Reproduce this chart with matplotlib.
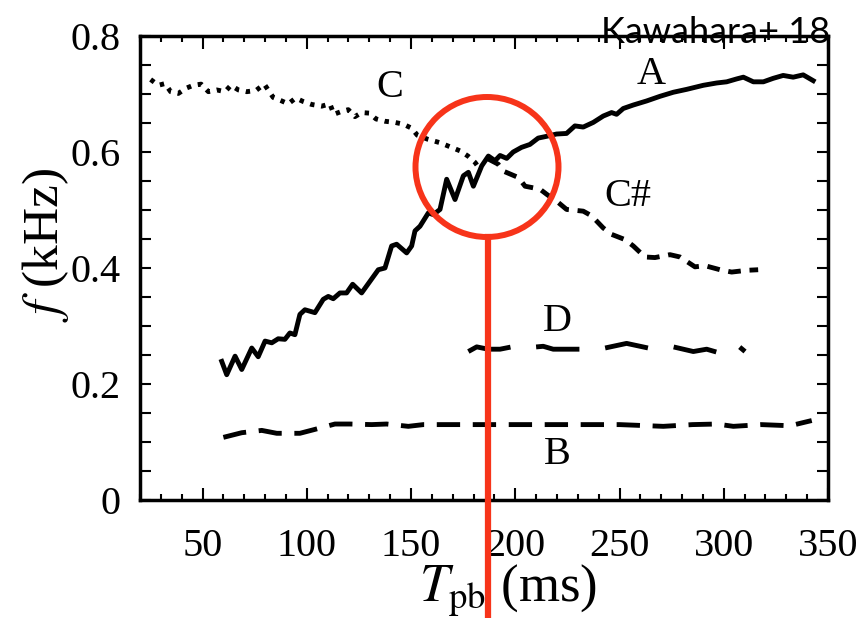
import matplotlib
matplotlib.use("Agg")
import matplotlib.pyplot as plt
from matplotlib.patches import Ellipse
from matplotlib.lines import Line2D
from matplotlib.ticker import MultipleLocator

plt.rcParams["font.family"] = "serif"
plt.rcParams["font.serif"] = ["Liberation Serif", "DejaVu Serif"]
plt.rcParams["mathtext.fontset"] = "stix"

# Mode A (solid)
t_A = [59.2, 61.6, 65.6, 68.8, 73.6, 76.7, 80.0, 83.2, 86.3, 89.5, 91.9, 94.3, 96.7, 99.1,
       103.9, 107.9, 110.3, 112.7, 115.9, 119.1, 122.0, 126.3, 130.3, 134.3, 137.5, 140.7,
       143.1, 147.9, 150.3, 151.9, 154.3, 158.3, 160.7, 163.9, 167.1, 171.1, 175.1, 177.5,
       179.9, 183.9, 187.1, 190.3, 192.7, 195.9, 199.0, 203.0, 207.0, 211.0, 215.0, 219.8,
       224.6, 228.6, 232.6, 237.4, 242.2, 246.2, 248.6, 251.8, 256.6, 263.0, 269.4, 275.8,
       282.2, 290.2, 296.6, 301.4, 306.2, 309.4, 314.2, 319.0, 323.7, 328.5, 333.3, 338.1, 342.9]
f_A = [0.239, 0.216, 0.248, 0.225, 0.262, 0.247, 0.274, 0.271, 0.278, 0.277, 0.288, 0.285, 0.320, 0.328,
       0.323, 0.346, 0.351, 0.347, 0.357, 0.357, 0.372, 0.357, 0.377, 0.397, 0.400, 0.438,
       0.441, 0.426, 0.438, 0.464, 0.472, 0.495, 0.492, 0.501, 0.553, 0.518, 0.559, 0.565,
       0.541, 0.576, 0.593, 0.585, 0.594, 0.589, 0.600, 0.608, 0.613, 0.624, 0.627, 0.631,
       0.632, 0.645, 0.643, 0.651, 0.662, 0.668, 0.665, 0.675, 0.681, 0.688, 0.696, 0.703,
       0.708, 0.715, 0.719, 0.721, 0.726, 0.729, 0.721, 0.721, 0.727, 0.732, 0.729, 0.733, 0.723]

# Mode C (dotted)
t_C = [25.1, 28.8, 32.0, 34.7, 38.4, 42.1, 45.6, 49.3, 52.8, 56.8, 60.8, 63.6, 67.2, 71.2,
       75.6, 79.6, 83.9, 88.0, 91.1, 94.7, 98.3, 102.3, 107.1, 111.1, 113.0, 116.7, 119.9,
       123.1, 126.3, 130.0, 133.2, 137.5, 142.3, 146.3, 150.3, 153.0, 158.0, 163.9, 168.7,
       173.5, 177.3, 180.7, 183.1]
f_C = [0.725, 0.715, 0.718, 0.704, 0.701, 0.710, 0.715, 0.717, 0.704, 0.707, 0.704, 0.715, 0.707, 0.704,
       0.706, 0.717, 0.694, 0.688, 0.683, 0.693, 0.687, 0.682, 0.679, 0.683, 0.665, 0.670, 0.673,
       0.661, 0.668, 0.667, 0.657, 0.653, 0.651, 0.648, 0.641, 0.629, 0.622, 0.616, 0.609,
       0.602, 0.593, 0.582, 0.570]

# Mode C# (short dashes)
t_Cs = [187.0, 191.8, 194.3, 201.5, 204.7, 211.8, 215.1, 220.6, 224.6, 232.6, 236.6, 242.2,
        246.2, 252.6, 256.6, 262.2, 267.0, 274.2, 279.0, 286.2, 291.0, 298.2, 303.8, 311.0, 316.5]
f_Cs = [0.588, 0.579, 0.567, 0.556, 0.541, 0.536, 0.527, 0.513, 0.501, 0.498, 0.490, 0.469,
        0.458, 0.449, 0.438, 0.419, 0.418, 0.423, 0.419, 0.402, 0.404, 0.397, 0.393, 0.396, 0.397]

# Mode D (long dashes)
t_D = [177.5, 181.5, 187.0, 192.7, 198.3, 204.0, 210.3, 213.4, 218.2, 231.0, 237.0, 243.0,
       253.4, 263.8, 270.0, 275.8, 285.4, 291.8, 296.6, 301.0, 306.2, 310.2]
f_D = [0.256, 0.264, 0.260, 0.260, 0.264, 0.262, 0.264, 0.265, 0.260, 0.260, 0.261, 0.262,
       0.270, 0.262, 0.263, 0.264, 0.256, 0.260, 0.255, 0.262, 0.268, 0.256]

# Mode B (dashes)
t_B = [60.0, 68.8, 78.4, 85.6, 96.7, 103.1, 113.5, 120.7, 131.1, 138.3, 148.7, 155.9, 170.0,
       190.0, 210.0, 230.0, 250.0, 271.0, 285.0, 296.6, 304.6, 318.0, 331.8, 342.2]
f_B = [0.108, 0.116, 0.120, 0.115, 0.115, 0.121, 0.131, 0.131, 0.130, 0.131, 0.127, 0.130, 0.130,
       0.130, 0.130, 0.130, 0.130, 0.127, 0.130, 0.131, 0.127, 0.130, 0.128, 0.137]

W, H = 861, 618
fig = plt.figure(figsize=(W / 100, H / 100), dpi=100)
ax = fig.add_axes([140 / W, 1 - 500 / H, 688 / W, 464 / H])

lw = 3.5
ax.plot(t_A, f_A, color="black", lw=lw, solid_joinstyle="round")
ax.plot(t_C, f_C, color="black", lw=lw, dashes=(0.9, 1.4))
ax.plot(t_Cs, f_Cs, color="black", lw=lw, dashes=(2.6, 1.8))
ax.plot(t_D, f_D, color="black", lw=lw, dashes=(9.0, 5.3))
ax.plot(t_B, f_B, color="black", lw=lw, dashes=(4.8, 2.6))

lab = dict(fontsize=29, ha="center", va="center")
ax.text(140, 0.712, "C", **lab)
ax.text(265, 0.734, "A", **lab)
ax.text(254, 0.524, "C#", **lab)
ax.text(220, 0.308, "D", **lab)
ax.text(220, 0.078, "B", **lab)

ax.set_xlim(20, 350)
ax.set_ylim(0, 0.8)
ax.xaxis.set_major_locator(MultipleLocator(50))
ax.xaxis.set_minor_locator(MultipleLocator(10))
ax.yaxis.set_major_locator(MultipleLocator(0.2))
ax.yaxis.set_minor_locator(MultipleLocator(0.05))
ax.set_xticks([50, 100, 150, 200, 250, 300, 350])
ax.set_yticks([0, 0.2, 0.4, 0.6, 0.8])
ax.set_yticklabels(["0", "0.2", "0.4", "0.6", "0.8"])

ax.tick_params(which="both", direction="in", top=True, right=True, width=1.5, labelsize=29)
ax.tick_params(axis="x", which="major", length=9, pad=20)
ax.tick_params(axis="x", which="minor", length=4.5)
ax.tick_params(axis="y", which="both", length=8, pad=14)
for s in ax.spines.values():
    s.set_linewidth(2.5)

ax.set_xlabel(r"$T_{\rm pb}$ (ms)", fontsize=38)
ax.set_ylabel(r"$f$ (kHz)", fontsize=37)
ax.xaxis.set_label_coords(0.535, -0.135)
ax.yaxis.set_label_coords(-0.1, 0.55)

fig.text(830 / W, 1 - 43 / H, "Kawahara+ 18", fontsize=26, family="Lato",
         ha="right", va="baseline")

# red highlight circle and pointer line
red = "#f7341a"
fig.add_artist(Ellipse((487 / W, 1 - 167 / H), 143 / W, 140 / H, fill=False,
                       edgecolor=red, lw=4.3, transform=fig.transFigure))
fig.add_artist(Line2D([488 / W, 488 / W], [1 - 237 / H, 0], color=red, lw=4.5,
                      transform=fig.transFigure))

fig.savefig("out.png", dpi=100)
